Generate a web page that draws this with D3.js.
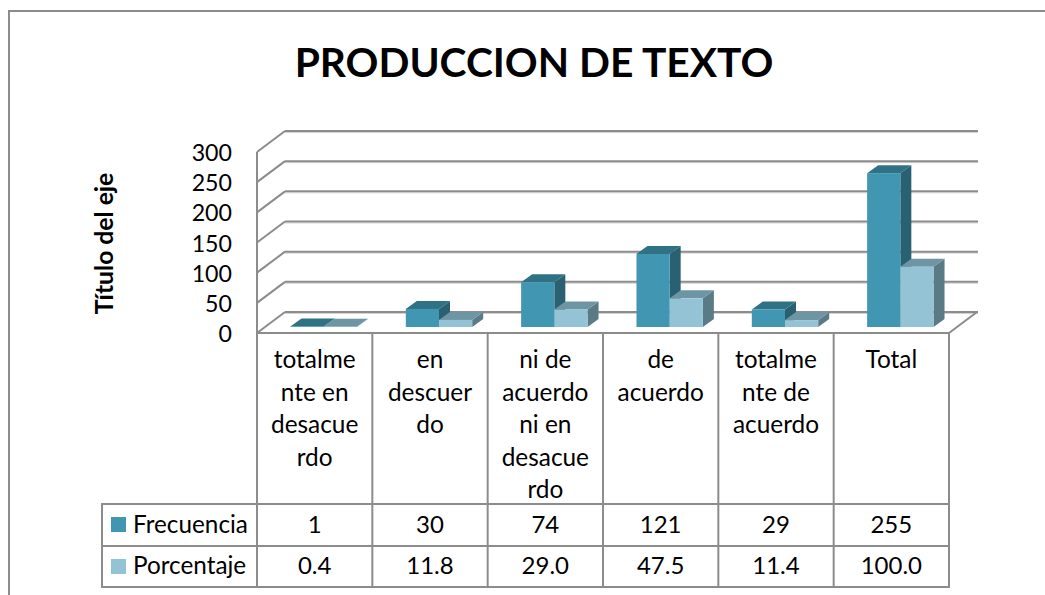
<!DOCTYPE html>
<html>
<head>
<meta charset="utf-8">
<style>
    html, body { margin:0; padding:0; background:#fff; overflow:hidden; }
    svg { display:block; }
    text { font-family:Lato, "Noto Sans", sans-serif; fill:#000; }
</style>
</head>
<body>
<svg></svg>
<script src="https://d3js.org/d3.v7.min.js"></script>
<script>
const categories = [
    ["totalme","nte en","desacue","rdo"],
    ["en","descuer","do"],
    ["ni de","acuerdo","ni en","desacue","rdo"],
    ["de","acuerdo"],
    ["totalme","nte de","acuerdo"],
    ["Total"]
];
const frecuencia = [1, 30, 74, 121, 29, 255];
const porcentaje = [0.4, 11.8, 29.0, 47.5, 11.4, 100.0];
const frecuenciaLabels = ["1","30","74","121","29","255"];
const porcentajeLabels = ["0.4","11.8","29.0","47.5","11.4","100.0"];
const yTicks = [0,50,100,150,200,250,300];

const width = 1045, height = 595;
const svg = d3.select("svg").attr("width",width).attr("height",height);

const line = "#8c8c8c";
const x = d3.scaleBand().domain(d3.range(6)).range([257,949]);
const y = d3.scaleLinear().domain([0,300]).range([333,152]);
const left = x.range()[0], right = x.range()[1];

// depth of the 3d box and of the bars
const depth = {x:28, y:-21};
const barDepth = {x:11, y:-8};
const barShift = {x:9, y:-6};
const barW = 33.2;

function seg(x1,y1,x2,y2,w,c){
    svg.append("line").attr("x1",x1).attr("y1",y1).attr("x2",x2).attr("y2",y2)
        .attr("stroke",c||line).attr("stroke-width",w||2);
}

// chart border: no right or bottom edge, the picture is cropped there
svg.append("path").attr("d","M9,595V11H1045").attr("fill","none").attr("stroke",line).attr("stroke-width",2);

svg.append("text").attr("x",534).attr("y",76.5).attr("text-anchor","middle")
    .attr("font-size",40.7).attr("font-weight","bold").text("PRODUCCION DE TEXTO");

svg.append("text").attr("transform","translate(113,243.5) rotate(-90)").attr("text-anchor","middle")
    .attr("font-size",24.7).attr("font-weight","bold").text("Título del eje");

// walls
yTicks.forEach(t => {
    seg(left, y(t), left+depth.x, y(t)+depth.y);
    seg(left+depth.x, y(t)+depth.y+1.5, right+depth.x+1, y(t)+depth.y+1.5, 1, "#d4d4d4");
    seg(left+depth.x, y(t)+depth.y, right+depth.x+1, y(t)+depth.y, 2);
    svg.append("text").attr("x",232).attr("y",y(t)+9).attr("text-anchor","end")
        .attr("font-size",23.2).text(t);
});
seg(left,y(300),left,333);
seg(right,333,right+depth.x,333+depth.y);
seg(left,333,right,333,2);

// bars, drawn from the back of the scene forward
function bar(i,v,offset,front,top,side){
    const x0 = x(i)+x.bandwidth()/2+barShift.x+offset*barW;
    const y0 = 333+barShift.y;
    const yt = y0-(333-y(v));
    const g = svg.append("g");
    g.append("polygon").attr("fill",side)
        .attr("points",[[x0+barW,y0],[x0+barW+barDepth.x,y0+barDepth.y],[x0+barW+barDepth.x,yt+barDepth.y],[x0+barW,yt]].join(" "));
    g.append("polygon").attr("fill",top)
        .attr("points",[[x0,yt],[x0+barDepth.x,yt+barDepth.y],[x0+barW+barDepth.x,yt+barDepth.y],[x0+barW,yt]].join(" "));
    g.append("rect").attr("x",x0).attr("y",yt).attr("width",barW).attr("height",y0-yt).attr("fill",front);
}
d3.range(6).forEach(i => {
    bar(i,frecuencia[i],-1,"#4197b2","#2f7285","#296172");
    bar(i,porcentaje[i],0,"#93c3d5","#6e95a3","#5a7a86");
});

// data table
const rows = [504,546,587];
rows.forEach(r => seg(102,r,right,r,2));
seg(102,503,102,588);
d3.range(7).forEach(i => seg(left+i*x.bandwidth(),333,left+i*x.bandwidth(),588));

categories.forEach((c,i) => {
    c.forEach((s,j) => {
        svg.append("text").attr("x",x(i)+x.bandwidth()/2).attr("y",368+j*32.5)
            .attr("text-anchor","middle").attr("font-size",24.4).text(s);
    });
});
[[frecuenciaLabels,"Frecuencia","#4197b2",533,517],[porcentajeLabels,"Porcentaje","#93c3d5",574,559]].forEach(r => {
    svg.append("rect").attr("x",111).attr("y",r[4]).attr("width",15).attr("height",15).attr("fill",r[2]);
    svg.append("text").attr("x",133).attr("y",r[3]).attr("font-size",24.3).text(r[1]);
    r[0].forEach((s,i) => {
        svg.append("text").attr("x",x(i)+x.bandwidth()/2).attr("y",r[3])
            .attr("text-anchor","middle").attr("font-size",24).text(s);
    });
});
</script>
</body>
</html>
